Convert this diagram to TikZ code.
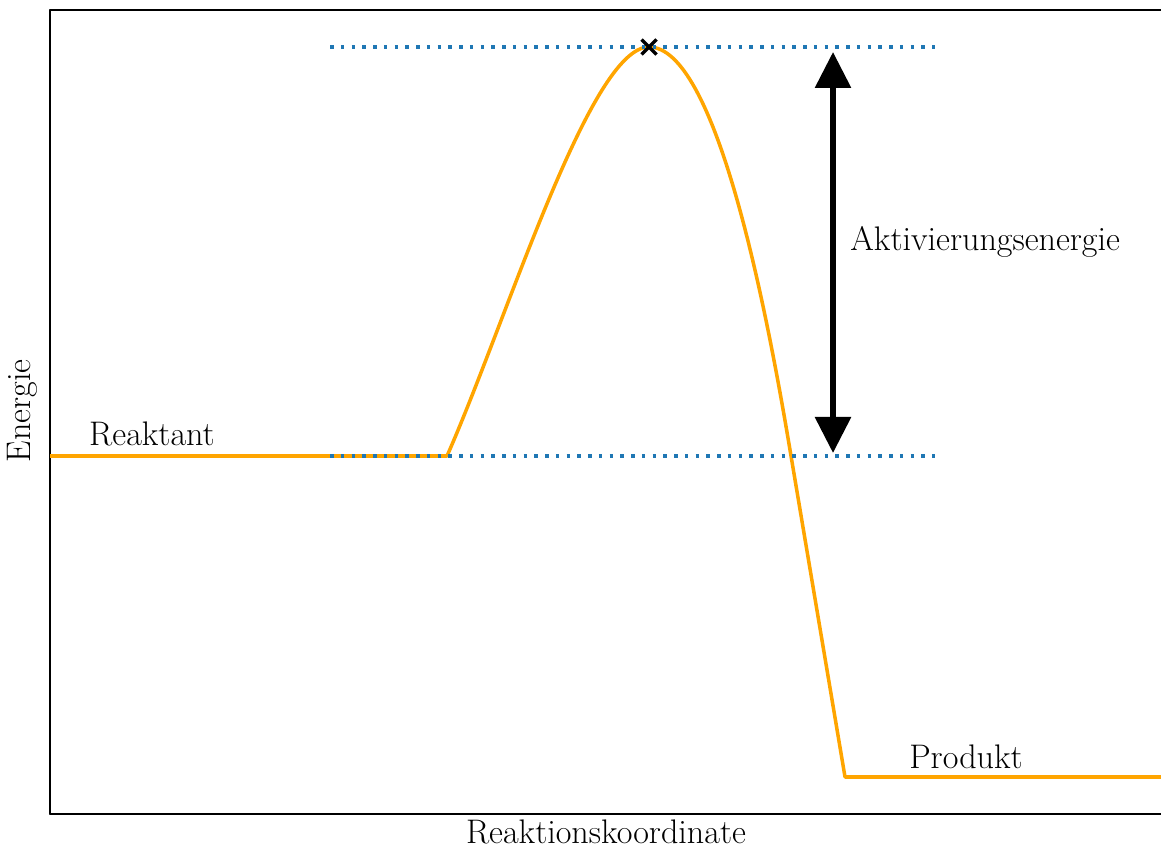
\documentclass[tikz,border=0pt]{standalone}
\usepackage{tkz-euclide}
\usetikzlibrary{arrows.meta,calc}
\definecolor{CurveClr}{rgb}{1,0.6470588235294118,0}
\definecolor{LevelClr}{rgb}{0.12156862745098039,0.4666666666666667,0.7058823529411765}
\tikzset{lbl/.style={font=\fontsize{19.4}{23}\selectfont,inner sep=0pt},
  level/.style={line width=0.07cm,line cap=butt,color=LevelClr,dash pattern=on 0.07cm off 0.145cm}}

\begin{document}
\begin{tikzpicture}
\useasboundingbox (0,0) rectangle (23.22,17);

\tkzDefPoints{1/0.72/O,1/16.8/T,23.22/0.72/OO,23.22/16.8/TT}
\tkzDefPoints{1/7.88/R,8.94/7.88/RR,16.9/1.46/P,23.22/1.46/PP}
\tkzDefPoints{12.98/16.06/TS,15.8/8.0/S}
\tkzDefPoints{6.6/16.06/H,18.7/16.06/HH,6.6/7.88/L,18.7/7.88/LL}
\tkzDefPoints{16.66/15.96/A,16.66/7.94/AA}
\tkzDefPoints{12.83/15.91/X,13.13/16.21/XX,12.83/16.21/Y,13.13/15.91/YY}

% axes
\tkzDrawSegments[line width=1.1pt,color=black](OO,O O,T T,TT)

% energy curve
\draw[line width=2pt,color=CurveClr,line join=round] (R) -- (RR)
  .. controls (10.14,10.6) and (11.8,16.06) .. (TS)
  .. controls (14.3,16.06) and (15.3,11.0) .. (S) -- (P) -- (PP);

% levels
\draw[level] (H) -- (HH);
\draw[level] (L) -- (LL);

% activation energy
\tkzDrawSegment[line width=0.12cm,color=black,
  {Triangle[width=0.7cm,length=0.72cm]}-{Triangle[width=0.7cm,length=0.72cm]}](AA,A)

% transition state
\tkzDrawSegments[line width=0.07cm,line cap=butt,color=black](X,XX Y,YY)

\tkzDefPoints{3.04/8.08/LR,19.32/1.64/LP,17/12.16/LA,12.12/0.14/LX,0.44/8.78/LY}
\tkzLabelPoint[lbl,anchor=base](LR){Reaktant}
\tkzLabelPoint[lbl,anchor=base](LP){Produkt}
\tkzLabelPoint[lbl,anchor=west](LA){Aktivierungsenergie}
\tkzLabelPoint[lbl,anchor=base](LX){Reaktionskoordinate}
\tkzLabelPoint[lbl,anchor=center,rotate=90](LY){Energie}

\end{tikzpicture}
\end{document}
